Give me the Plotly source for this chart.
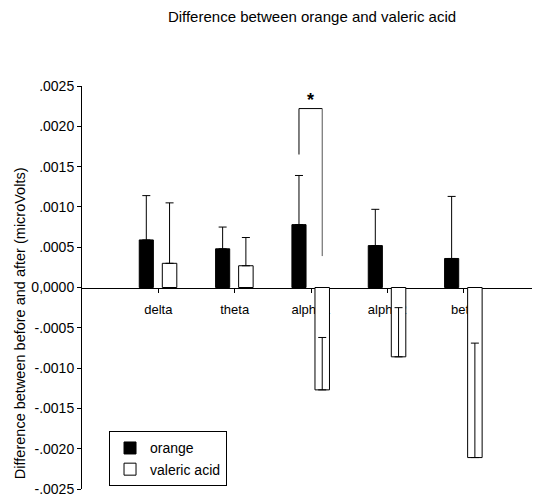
import plotly.graph_objects as go

categories = ["delta", "theta", "alpha1", "alpha2", "beta"]
orange_vals = [0.00059, 0.00048, 0.00078, 0.00052, 0.00036]
orange_err = [0.00055, 0.00027, 0.00061, 0.00045, 0.00077]
valeric_vals = [0.00030, 0.00027, -0.00127, -0.00086, -0.00211]
valeric_err = [0.00075, 0.00035, 0.00065, 0.00061, 0.00142]
ytick_vals = [0.0025, 0.0020, 0.0015, 0.0010, 0.0005, 0.0, -0.0005, -0.0010, -0.0015, -0.0020, -0.0025]
ytick_text = [".0025", ".0020", ".0015", ".0010", ".0005", "0,0000", "-.0005", "-.0010", "-.0015", "-.0020", "-.0025"]

FONT = "Liberation Sans, Arial, sans-serif"
xpos = list(range(len(categories)))

# The page body has an 8px default margin; the figure is sized to fit the window.
W, H = 532, 491

fig = go.Figure()
fig.add_trace(go.Bar(
    x=xpos, y=orange_vals, name="orange", width=0.185, offset=-0.25,
    marker=dict(color="black", line=dict(color="black", width=1)),
    error_y=dict(type="data", array=orange_err, arrayminus=[0]*5, symmetric=False,
                 color="black", thickness=1, width=4),
))
fig.add_trace(go.Bar(
    x=xpos, y=valeric_vals, name="valeric acid", width=0.19, offset=0.052,
    marker=dict(color="white", line=dict(color="black", width=1)),
    error_y=dict(type="data", array=valeric_err, arrayminus=[0]*5, symmetric=False,
                 color="black", thickness=1, width=4),
))

# significance bracket between alpha1 bars
xl = 2 - 0.25 + 0.185 / 2
xr = 2 + 0.052 + 0.19 / 2
fig.add_shape(type="line", x0=xl, x1=xl, y0=0.00165, y1=0.00222, line=dict(color="black", width=1))
fig.add_shape(type="line", x0=xl, x1=xr, y0=0.00222, y1=0.00222, line=dict(color="black", width=1))
fig.add_shape(type="line", x0=xr, x1=xr, y0=0.00222, y1=0.00039, line=dict(color="#555", width=1))
fig.add_annotation(x=(xl + xr) / 2, y=0.00233, text="<b>*</b>", showarrow=False,
                   font=dict(size=18, color="black", family=FONT), yanchor="middle")

fig.update_layout(
    width=W, height=H,
    margin=dict(l=74, r=0, t=78, b=10, autoexpand=False),
    paper_bgcolor="white", plot_bgcolor="white",
    barmode="overlay",
    font=dict(family=FONT, size=13, color="black"),
    title=dict(text="Difference between orange and valeric acid", x=304 / W, xanchor="center",
               y=1 - 9 / H, yanchor="middle", automargin=False,
               font=dict(size=15, family=FONT, color="black")),
    showlegend=True,
    legend=dict(x=0.059, y=0.143, xanchor="left", yanchor="top", bordercolor="black",
                borderwidth=1, bgcolor="white", font=dict(size=14, family=FONT),
                tracegroupgap=0, itemwidth=30),
    xaxis=dict(range=[-1, 5], tickvals=xpos, ticktext=categories, showgrid=False,
               zeroline=False, showline=True, linecolor="black", linewidth=1,
               ticks="outside", ticklen=4, tickcolor="black", anchor="free", position=0.5,
               layer="below traces", ticklabelstandoff=6, automargin=False,
               tickfont=dict(size=13)),
    yaxis=dict(range=[-0.0025, 0.0025], tickvals=ytick_vals, ticktext=ytick_text,
               showgrid=False, zeroline=False, showline=True, linecolor="black",
               ticks="outside", ticklen=4, tickcolor="black", automargin=False,
               tickfont=dict(size=14)),
)
fig.add_annotation(text="Difference between before and after (microVolts)", textangle=-90,
                   xref="paper", yref="paper", x=-0.135, y=0.412, xanchor="center", yanchor="middle",
                   showarrow=False, font=dict(size=14.5, family=FONT, color="black"))

fig.write_html("out.html")
